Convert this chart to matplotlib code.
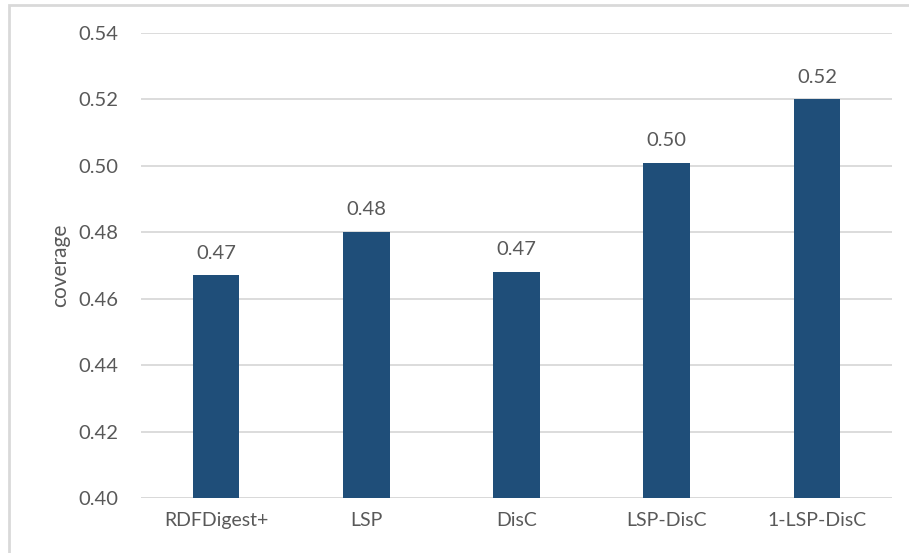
import matplotlib.pyplot as plt
from matplotlib.patches import Rectangle

methods = ["RDFDigest+", "LSP", "DisC", "LSP-DisC", "1-LSP-DisC"]
coverage = [0.467, 0.480, 0.468, 0.501, 0.520]
value_labels = ["0.47", "0.48", "0.47", "0.50", "0.52"]
yticks = [0.40, 0.42, 0.44, 0.46, 0.48, 0.50, 0.52, 0.54]

plt.rcParams['font.family'] = ['Lato', 'DejaVu Sans']
grey = '#595959'
bar_color = '#1F4E79'

W, H = 909, 553
fig = plt.figure(figsize=(W / 100, H / 100), dpi=100)
ax = fig.add_axes([141 / W, 1 - 498 / H, (892 - 141) / W, (498 - 33) / H])

x = range(len(methods))
bars = ax.bar(x, coverage, width=0.31, color=bar_color, zorder=3)
for b, lab in zip(bars, value_labels):
    ax.annotate(lab, (b.get_x() + b.get_width() / 2, b.get_height()),
                xytext=(0, 10), textcoords='offset points',
                ha='center', va='bottom', fontsize=14.5, color=grey)

ax.set_xlim(-0.5, len(methods) - 0.5)
ax.set_ylim(0.40, 0.54)
ax.set_yticks(yticks)
ax.set_yticklabels([f"{t:.2f}" for t in yticks])
ax.set_xticks(list(x))
ax.set_xticklabels(methods)
ax.tick_params(axis='y', length=0, pad=16, labelsize=14.5, labelcolor=grey)
ax.tick_params(axis='x', length=0, pad=10, labelsize=14, labelcolor=grey)
ax.grid(axis='y', color='#D9D9D9', linewidth=1.3, zorder=0)
for s in ax.spines.values():
    s.set_visible(False)
ax.axhline(0.40, color='#D9D9D9', linewidth=1.3, zorder=2)

fig.text(60 / W, 1 - 265 / H, "coverage", rotation=90, ha='center', va='center',
         fontsize=15, color=grey)

# outer chart border
fig.patches.append(Rectangle((9 / W, -0.05), 1.2, 1 - 5 / H + 0.05,
                             transform=fig.transFigure, fill=False,
                             edgecolor='#D9D9D9', linewidth=2))

fig.savefig("out.png", dpi=100)
